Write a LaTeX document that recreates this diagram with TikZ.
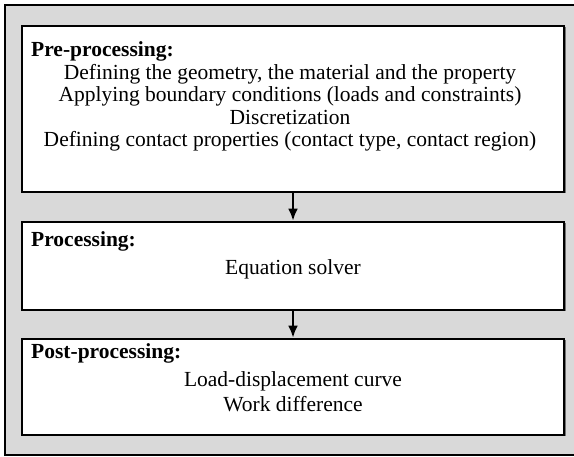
\documentclass[tikz,border=0pt]{standalone}
\usepackage{fontspec}
\setmainfont{Liberation Serif}
\usetikzlibrary{arrows.meta,shadows}
\definecolor{bggray}{HTML}{D9D9D9}
\tikzset{
    stagebox/.style={draw, line width=2.6pt, fill=white, inner sep=0pt,
        drop shadow={shadow xshift=1.5pt, shadow yshift=-1.5pt, fill=black!55, opacity=1}},
    stagetitle/.style={anchor=base west, inner sep=0pt, font=\fontsize{21.5}{23}\selectfont\bfseries},
    stageline/.style={anchor=base, inner sep=0pt, font=\fontsize{21.5}{23}\selectfont},
    flow/.style={line width=2.6pt, -{Latex[length=12pt, width=10pt]}}
}
\begin{document}
\begin{tikzpicture}[x=1pt, y=-1pt]
    \useasboundingbox (0, 0) rectangle (574, 457);
    \clip (0, 0) rectangle (574, 457);
    \draw[fill=bggray, line width=2.4pt] (5, 5) rectangle (590, 455);

    % the three stages
    \node[stagebox, minimum width=542pt, minimum height=166pt] (pre) at (293, 109) {};
    \node[stagebox, minimum width=542pt, minimum height=88pt] (proc) at (293, 266) {};
    \node[stagebox, minimum width=542pt, minimum height=96pt] (post) at (293, 387) {};

    \node[stagetitle] (pretitle) at (31, 57) {Pre-processing:};
    \node[stageline] (pre1) at (290, 80) {Defining the geometry, the material and the property};
    \node[stageline] (pre2) at (290, 102) {Applying boundary conditions (loads and constraints)};
    \node[stageline] (pre3) at (290, 125) {Discretization};
    \node[stageline] (pre4) at (290, 147) {Defining contact properties (contact type, contact region)};

    \node[stagetitle] (proctitle) at (31, 247) {Processing:};
    \node[stageline] (proc1) at (293, 275) {Equation solver};

    \node[stagetitle] (posttitle) at (31, 359) {Post-processing:};
    \node[stageline] (post1) at (293, 387) {Load-displacement curve};
    \node[stageline] (post2) at (293, 412) {Work difference};

    \draw[flow] (pre.south) -- (proc.north);
    \draw[flow] (proc.south) -- (post.north);
\end{tikzpicture}
\end{document}
